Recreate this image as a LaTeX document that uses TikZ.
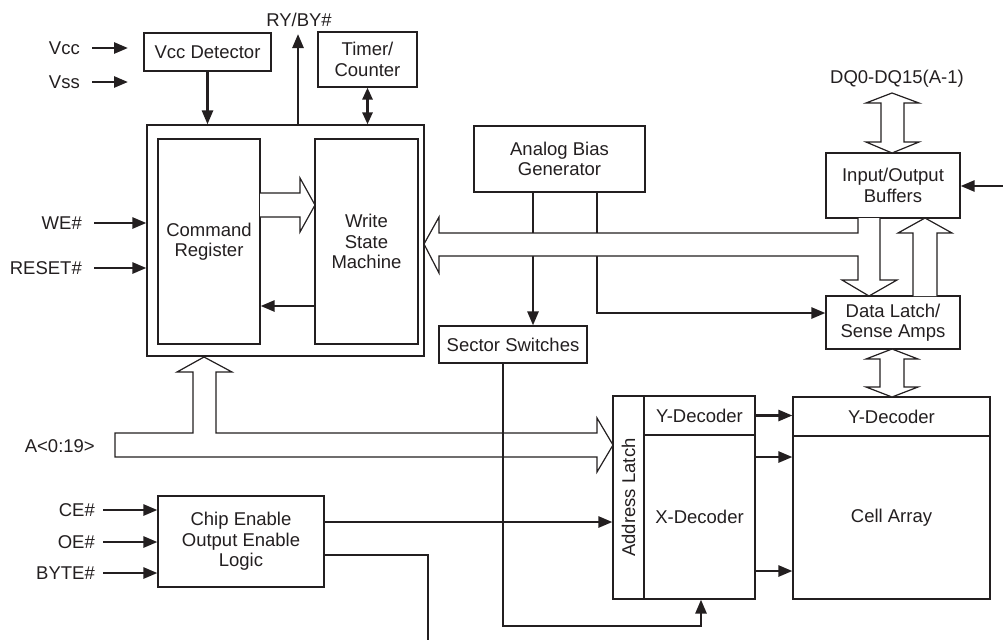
\documentclass[tikz,border=0pt]{standalone}
\usepackage{fontspec}
\setmainfont{Liberation Sans}
\usetikzlibrary{arrows.meta,calc}
\definecolor{ink}{HTML}{231F20}
\begin{document}
\begin{tikzpicture}[x=1pt,y=-1pt,
  every node/.style={font=\fontsize{18.5}{20.5}\selectfont, text=ink},
  box/.style={draw=ink, line width=1.2pt, inner sep=0pt, align=center, fill=white},
  sig/.style={draw=ink, line width=2.6pt, -{Triangle[length=14pt,width=11pt]}},
  dsig/.style={draw=ink, line width=2.6pt, {Triangle[length=12pt,width=10pt]}-{Triangle[length=12pt,width=10pt]}},
  wire/.style={draw=ink, line width=2.6pt},
  bus/.style={draw=ink, line width=1.2pt, fill=white, line join=miter},
  lbl/.style={anchor=east, inner sep=0pt}
]
\useasboundingbox (0,0) rectangle (1003,640);

% ---------- boxes ----------
\node[box, minimum width=127pt, minimum height=38pt] (vccdet) at (207.5,52) {Vcc Detector};
\node[box, minimum width=99pt, minimum height=55pt] (timer) at (367.5,59.5) {Timer/\\Counter};
\node[box, minimum width=277pt, minimum height=231pt] (outer) at (285.5,240.5) {};
\node[box, minimum width=102pt, minimum height=205pt] (cmdreg) at (209,241.5) {Command\\Register};
\node[box, minimum width=103pt, minimum height=205pt] (wsm) at (366.5,241.5) {Write\\State\\Machine};
\node[box, minimum width=171pt, minimum height=66pt] (abg) at (559.5,159) {Analog Bias\\Generator};
\node[box, minimum width=148pt, minimum height=37pt] (sector) at (513,344.5) {Sector Switches};
\node[box, minimum width=134pt, minimum height=65pt] (iobuf) at (893,185.5) {Input/Output\\Buffers};
\node[box, minimum width=134pt, minimum height=53pt] (dlatch) at (893,322.5) {Data Latch/\\Sense Amps};
\node[box, minimum width=31pt, minimum height=203pt] (alatch) at (628.5,497.5) {};
\node[rotate=90] at (alatch.center) {Address Latch};
\node[box, minimum width=111pt, minimum height=39pt] (ydec1) at (699.5,415.5) {Y-Decoder};
\node[box, minimum width=111pt, minimum height=164pt] (xdec) at (699.5,517) {X-Decoder};
\node[box, minimum width=197pt, minimum height=39pt] (ydec2) at (891.5,416.5) {Y-Decoder};
\node[box, minimum width=197pt, minimum height=163pt] (cell) at (891.5,517.5) {Cell Array};
\node[box, minimum width=166pt, minimum height=91pt] (chipen) at (241,541.5) {Chip Enable\\Output Enable\\Logic};

% ---------- labels ----------
\node[lbl] (vcc) at (80,48) {Vcc};
\node[lbl] (vss) at (80,82) {Vss};
\node (ry) at (299,20) {RY/BY\#};
\node[lbl] (we) at (82,223) {WE\#};
\node[lbl] (reset) at (82,268) {RESET\#};
\node[lbl] (addr) at (95,446) {A<0:19>};
\node[lbl] (ce) at (95,510) {CE\#};
\node[lbl] (oe) at (95,542) {OE\#};
\node[lbl] (byte) at (95,573) {BYTE\#};
\node (dq) at (897,79) {DQ0-DQ15(A-1)};

% ---------- helper coordinates ----------
\coordinate (rytip) at (298,34);
\coordinate (ioin) at (1003,186);
\coordinate (y306) at (0,306);
\coordinate (y313) at (0,313);
\coordinate (y457) at (0,457);
\coordinate (y571) at (0,571);
\coordinate (y522) at (0,522);
\coordinate (y555) at (0,555);
\coordinate (x533) at (533,0);
\coordinate (x597) at (597,0);
\coordinate (x503) at (503,0);
\coordinate (x701) at (701,0);
\coordinate (x428) at (428,0);
\coordinate (bot) at (428,640);
\coordinate (sw1) at (503,626);

% ---------- signal arrows ----------
\draw[sig] ([xshift=12pt]vcc.east) -- ++(36,0);
\draw[sig] ([xshift=12pt]vss.east) -- ++(36,0);
\draw[sig] (vccdet.south) -- (vccdet.south |- outer.north);
\draw[sig] (outer.north -| rytip) -- (rytip);
\draw[dsig] (timer.south) -- (timer.south |- outer.north);
\draw[sig] ([xshift=12pt]we.east) -- (outer.west |- we.east);
\draw[sig] ([xshift=12pt]reset.east) -- (outer.west |- reset.east);
\draw[sig] (wsm.west |- y306) -- (cmdreg.east |- y306);
\draw[sig] ([xshift=8pt]ce.east) -- (chipen.west |- ce.east);
\draw[sig] ([xshift=8pt]oe.east) -- (chipen.west |- oe.east);
\draw[sig] ([xshift=8pt]byte.east) -- (chipen.west |- byte.east);
\draw[sig] (ioin) -- (iobuf.east |- ioin);

% analog bias lines (under the bus)
\draw[sig] (abg.south -| x533) -- (sector.north -| x533);
\draw[sig] (abg.south -| x597) -- (x597 |- y313) -- (dlatch.west |- y313);

% ---------- hollow buses ----------
% command register -> write state machine
\draw[bus] (260,193) -- (300,193) -- (300,178) -- (315,205) -- (300,232) -- (300,217) -- (260,217);
% I/O buffers -> write state machine and data latch
\draw[bus] (858,218) -- (858,233) -- (439,233) -- (439,217) -- (424,244) -- (439,273)
  -- (439,256) -- (858,256) -- (858,280) -- (842,280) -- (869,296) -- (897,280)
  -- (880,280) -- (880,218);
% data latch -> I/O buffers
\draw[bus] (913,296) -- (913,233) -- (898,233) -- (925,218) -- (952,233) -- (937,233) -- (937,296);
% DQ double arrow
\draw[bus] (892,93) -- (919,103) -- (904,103) -- (904,142) -- (919,142) -- (892,153)
  -- (866,142) -- (881,142) -- (881,103) -- (866,103) -- cycle;
% data latch <-> Y-decoder
\draw[bus] (892,349) -- (918,359) -- (904,359) -- (904,387) -- (918,387) -- (892,397)
  -- (866,387) -- (880,387) -- (880,359) -- (866,359) -- cycle;
% address bus
\draw[bus] (115,433) -- (193,433) -- (193,372) -- (177,372) -- (204,357) -- (232,372)
  -- (216,372) -- (216,433) -- (597,433) -- (597,418) -- (613,445) -- (597,472)
  -- (597,457) -- (115,457) -- cycle;

% ---------- lines over the bus ----------
\draw[sig] (sector.south -| x503) -- (sw1) -- (sw1 -| x701) -- (alatch.south -| x701);
\draw[sig] (chipen.east |- y522) -- (alatch.west |- y522);
\draw[wire] (chipen.east |- y555) -- (x428 |- y555) -- (bot);
\draw[sig] (ydec1.east) -- (ydec2.west |- ydec1.east);
\draw[sig] (xdec.east |- y457) -- (cell.west |- y457);
\draw[sig] (xdec.east |- y571) -- (cell.west |- y571);
\end{tikzpicture}
\end{document}
